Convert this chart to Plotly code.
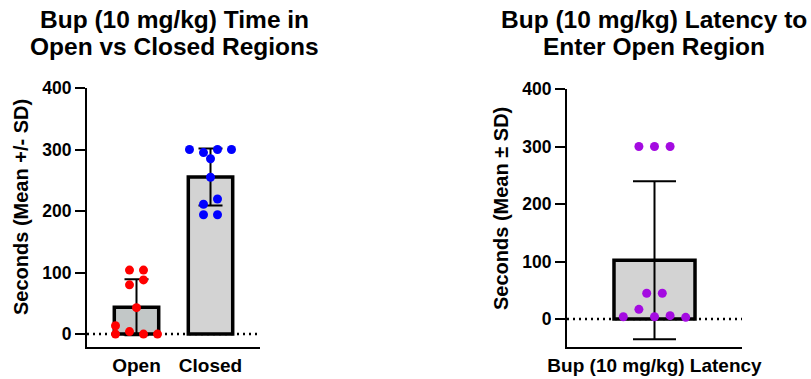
import math
import numpy as np
import plotly.graph_objects as go

# ---------------- data ----------------
left_categories = ["Open", "Closed"]
open_values = [104, 104, 80, 88, 43, 13.5, 4, 0, 0, 0]
closed_values = [300, 295, 300, 300, 285, 255, 211, 219.5, 194, 194]
right_category = ["Bup (10 mg/kg) Latency"]
latency_values = [300, 300, 300, 45, 45, 4, 17, 4, 6, 3]
y_ticks = [0, 100, 200, 300, 400]

left_title = ["Bup (10 mg/kg) Time in", "Open vs Closed Regions"]
right_title = ["Bup (10 mg/kg) Latency to", "Enter Open Region"]
left_ytitle = "Seconds (Mean +/- SD)"
right_ytitle = "Seconds (Mean ± SD)"

# ---------------- layout constants ----------------
W, H = 811, 379
FONT = "Liberation Sans, Arial, sans-serif"
L_X = (87, 260)
L_Y = (88, 347)          # top (400), bottom px
L_YR = [-21, 400]
L_XR = [-0.669, 1.669]
R_X = (567, 742)
R_Y = (89, 346.7)
R_YR = [-48, 400]
R_XR = [-1, 1]
MARK = 9


def dom_x(a):
    return [a[0] / W, a[1] / W]


def dom_y(a):
    return [(H - a[1]) / H, (H - a[0]) / H]


def swarm(values, center, step, cap, thr):
    n = len(values)
    order = sorted(range(n), key=lambda i: -values[i])
    clusters = []
    for i in order:
        if clusters and values[clusters[-1][0]] - values[i] <= thr:
            clusters[-1].append(i)
        else:
            clusters.append([i])
    xs = [0.0] * n
    for cl in clusters:
        cl = sorted(cl)
        k = min(len(cl), cap)
        for j, i in enumerate(cl):
            xs[i] = center + ((j % k) - (k - 1) / 2) * step
    return xs


def stats(v):
    a = np.array(v, dtype=float)
    return float(a.mean()), float(a.std(ddof=1))


fig = go.Figure()

# ---- left panel ----
l_ppu_y = (L_Y[1] - L_Y[0]) / (L_YR[1] - L_YR[0])
l_ppu_x = (L_X[1] - L_X[0]) / (L_XR[1] - L_XR[0])
l_bw = 0.6
l_step = 14 / l_ppu_x
l_cap = int(l_bw / l_step) + 1
l_thr = MARK / l_ppu_y

m_open, s_open = stats(open_values)
m_closed, s_closed = stats(closed_values)

fig.add_trace(go.Bar(
    x=[0, 1], y=[m_open, m_closed], width=l_bw,
    marker=dict(color=["#c2c7c7", "#d3d3d3"], line=dict(color="black", width=3.5)),
    error_y=dict(type="data", array=[s_open, s_closed], color="black", thickness=2, width=12),
    xaxis="x", yaxis="y", hoverinfo="skip"))
fig.add_trace(go.Scatter(
    x=swarm(open_values, 0, l_step, l_cap, l_thr), y=open_values, mode="markers",
    marker=dict(color="#ff0000", size=MARK), xaxis="x", yaxis="y"))
fig.add_trace(go.Scatter(
    x=swarm(closed_values, 1, l_step, l_cap, l_thr), y=closed_values, mode="markers",
    marker=dict(color="#0000ff", size=MARK), xaxis="x", yaxis="y"))

# ---- right panel ----
r_ppu_y = (R_Y[1] - R_Y[0]) / (R_YR[1] - R_YR[0])
r_ppu_x = (R_X[1] - R_X[0]) / (R_XR[1] - R_XR[0])
r_bw = 0.926
r_step = 15.6 / r_ppu_x
r_cap = int(r_bw / r_step) + 1
r_thr = MARK / r_ppu_y
m_lat, s_lat = stats(latency_values)

fig.add_trace(go.Bar(
    x=[0], y=[m_lat], width=r_bw,
    marker=dict(color="#d3d3d3", line=dict(color="black", width=3.5)),
    error_y=dict(type="data", array=[s_lat], color="black", thickness=2, width=21.5),
    xaxis="x2", yaxis="y2", hoverinfo="skip"))
fig.add_trace(go.Scatter(
    x=swarm(latency_values, 0, r_step, r_cap, r_thr), y=latency_values, mode="markers",
    marker=dict(color="#a40be1", size=MARK), xaxis="x2", yaxis="y2"))

ytickfont = dict(family=FONT, size=17.5, color="black", weight="bold")
xtickfont = dict(family=FONT, size=19, color="black", weight="bold")
common_x = dict(showline=True, linecolor="black", linewidth=2, ticks="", showgrid=False,
                zeroline=False, tickfont=xtickfont, fixedrange=True, automargin=False)
common_y = dict(showline=True, linecolor="black", linewidth=2, ticks="outside", ticklen=10,
                tickwidth=2, tickcolor="black", showgrid=False, zeroline=False,
                tickfont=ytickfont, tickvals=y_ticks, fixedrange=True, automargin=False)

fig.update_layout(
    width=W, height=H, margin=dict(l=0, r=0, t=0, b=0, pad=0, autoexpand=False),
    paper_bgcolor="white", plot_bgcolor="white", showlegend=False,
    xaxis=dict(domain=dom_x(L_X), range=L_XR, tickvals=[0, 1], ticktext=left_categories,
               anchor="y", **common_x),
    yaxis=dict(domain=dom_y(L_Y), range=L_YR, anchor="x", **common_y),
    xaxis2=dict(domain=dom_x(R_X), range=R_XR, tickvals=[0], ticktext=right_category,
                anchor="y2", **common_x),
    yaxis2=dict(domain=dom_y(R_Y), range=R_YR, anchor="x2", **common_y),
)

# dotted zero lines
for xr, yr in (("x domain", "y"), ("x2 domain", "y2")):
    fig.add_shape(type="line", xref=xr, yref=yr, x0=0, x1=1, y0=0, y1=0, layer="below",
                  line=dict(color="black", width=2.5, dash="2px,4px"))

# titles
tfont = dict(family=FONT, size=24.5, color="black", weight="bold")
for cx, lines in ((174 / W, left_title), (654 / W, right_title)):
    for k, (txt, yc) in enumerate(zip(lines, (20, 46))):
        fig.add_annotation(text=txt, x=cx, y=1 - yc / H, xref="paper", yref="paper",
                           xanchor="center", yanchor="middle", showarrow=False, font=tfont)

# y titles
yfont = dict(family=FONT, size=20, color="black", weight="bold")
fig.add_annotation(text=left_ytitle, x=21 / W, y=1 - 207 / H, xref="paper", yref="paper",
                   textangle=-90, showarrow=False, font=yfont, xanchor="center", yanchor="middle")
fig.add_annotation(text=right_ytitle, x=501 / W, y=1 - 209 / H, xref="paper", yref="paper",
                   textangle=-90, showarrow=False, font=yfont, xanchor="center", yanchor="middle")

fig.write_html("out.html", post_script="document.body.style.margin='0';",
               config={"displayModeBar": False})
